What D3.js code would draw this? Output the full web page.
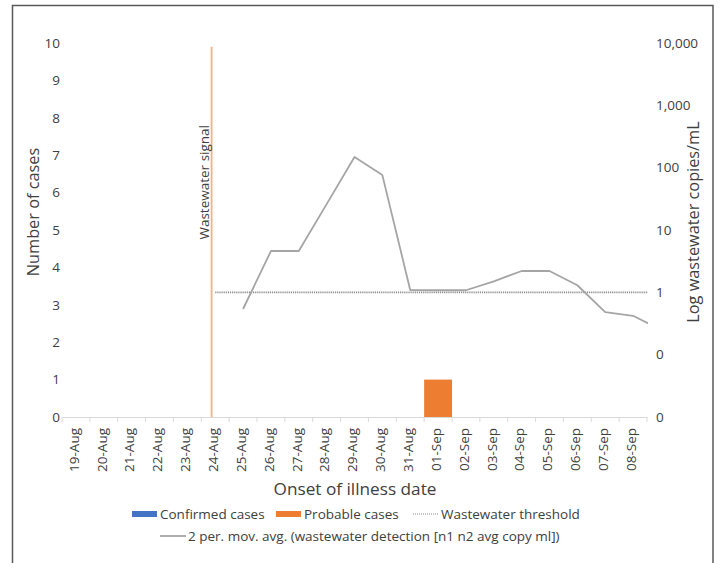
<!DOCTYPE html>
<html>
<head>
<meta charset="utf-8">
<script src="https://cdn.jsdelivr.net/npm/d3@7"></script>
<style>
  html, body { margin: 0; padding: 0; background: #fff; }
  svg { display: block; font-family: "Open Sans", Lato, sans-serif; }
</style>
</head>
<body>
<svg id="chart" width="719" height="563"></svg>
<script>
// Onset-of-illness dates (one category per day)
const dates = ["19-Aug","20-Aug","21-Aug","22-Aug","23-Aug","24-Aug","25-Aug","26-Aug","27-Aug",
  "28-Aug","29-Aug","30-Aug","31-Aug","01-Sep","02-Sep","03-Sep","04-Sep","05-Sep","06-Sep",
  "07-Sep","08-Sep"];
const confirmedCases = [0,0,0,0,0,0,0,0,0,0,0,0,0,0,0,0,0,0,0,0,0];
const probableCases  = [0,0,0,0,0,0,0,0,0,0,0,0,0,1,0,0,0,0,0,0,0];

// Wastewater: 2-period moving average (copies/mL), starting 25-Aug; last value is 09-Sep
const wwStart = "25-Aug";
const wwMovAvg = [0.54, 4.6, 4.6, 26, 148, 76, 1.09, 1.08, 1.08, 1.5, 2.2, 2.2, 1.3, 0.48, 0.42, 0.25];
// Detection threshold, drawn from the signal date onward
const wwThresholdStart = "24-Aug";
const wwThreshold = 1;
const signalDate = "24-Aug";

const leftTicks = [0,1,2,3,4,5,6,7,8,9,10];
const rightTicks = [0.01, 0.1, 1, 10, 100, 1000, 10000];

const FONT = "'Open Sans', Lato, sans-serif";
const TXT = "#404040";
const FS = 13.5;        // tick and legend text
const FS_TITLE = 17.2;  // x axis title
const FS_VTITLE = 16.3; // y axis titles

const svg = d3.select("#chart");
const plot = { left: 62, right: 647, top: 43, bottom: 417 };

const x = d3.scaleBand().domain(dates).range([plot.left, plot.right]).padding(0);
const yCases = d3.scaleLinear().domain([0, 10]).range([plot.bottom, plot.top]);
const yWW = d3.scaleLog().domain([0.01, 10000]).range([plot.bottom, plot.top]);

// position of a day counted from a given start category (may run past the last date)
const dayX = (start, i) => x(start) + x.step() * i + x.bandwidth() / 2;

// outer frame
svg.append("rect").attr("x", 12.5).attr("y", 5.5).attr("width", 700.5).attr("height", 600)
  .attr("fill", "none").attr("stroke", "#595959").attr("stroke-width", 1.5);

svg.append("defs").append("clipPath").attr("id", "plotClip")
  .append("rect").attr("x", plot.left).attr("y", plot.top - 5)
  .attr("width", plot.right - plot.left + 1).attr("height", plot.bottom - plot.top + 5);

// left axis labels
const gL = svg.append("g").attr("transform", `translate(${plot.left - 2},0)`)
  .call(d3.axisLeft(yCases).tickValues(leftTicks).tickSize(0).tickPadding(0));
gL.select(".domain").remove();
gL.selectAll("text").attr("font-size", FS).attr("fill", TXT).style("font-family", FONT);

// right axis labels
const gR = svg.append("g").attr("transform", `translate(${plot.right + 9},0)`)
  .call(d3.axisRight(yWW).tickValues(rightTicks).tickFormat(d3.format(",.0f")).tickSize(0).tickPadding(0));
gR.select(".domain").remove();
gR.selectAll("text").attr("font-size", FS).attr("fill", TXT).style("font-family", FONT);

// bars
const barData = dates.map((d, i) => ({ d, c: confirmedCases[i], p: probableCases[i] }));
svg.append("g").selectAll("rect.conf").data(barData.filter(b => b.c > 0)).join("rect")
  .attr("x", b => x(b.d)).attr("width", x.bandwidth())
  .attr("y", b => yCases(b.c)).attr("height", b => yCases(0) - yCases(b.c)).attr("fill", "#4472c4");
svg.append("g").selectAll("rect.prob").data(barData.filter(b => b.p > 0)).join("rect")
  .attr("x", b => x(b.d)).attr("width", x.bandwidth())
  .attr("y", b => yCases(b.c + b.p)).attr("height", b => yCases(b.c) - yCases(b.c + b.p)).attr("fill", "#ed7d31");

// x axis
const gX = svg.append("g").attr("transform", `translate(0,${plot.bottom})`)
  .call(d3.axisBottom(x).tickSize(0).tickPadding(0));
gX.select(".domain").attr("stroke", "#d9d9d9").attr("stroke-width", 1.2);
gX.selectAll(".tick text")
  .attr("font-size", FS).attr("fill", TXT).style("font-family", FONT)
  .attr("text-anchor", "end").attr("dy", "0.35em")
  .attr("transform", "translate(-2,11) rotate(-90)").attr("x", 0).attr("y", 0);
// boundary tick marks between categories
gX.append("g").selectAll("line").data(d3.range(dates.length + 1)).join("line")
  .attr("x1", i => plot.left + i * x.step()).attr("x2", i => plot.left + i * x.step())
  .attr("y1", 0).attr("y2", 5).attr("stroke", "#d9d9d9").attr("stroke-width", 1);

// wastewater signal marker
const sx = x(signalDate) + x.bandwidth() * 0.37;
svg.append("line").attr("x1", sx).attr("x2", sx).attr("y1", yCases(9.9)).attr("y2", yCases(0))
  .attr("stroke", "#f4b183").attr("stroke-width", 1.8);
svg.append("text").attr("transform", `translate(${sx - 3},${125}) rotate(-90)`)
  .attr("text-anchor", "end").attr("font-size", FS).attr("fill", TXT)
  .text("Wastewater signal");

const clipped = svg.append("g").attr("clip-path", "url(#plotClip)");

// threshold line
const thrStartIdx = dates.indexOf(wwThresholdStart);
const nThr = dates.length - thrStartIdx + 1;
clipped.append("path")
  .datum(d3.range(nThr))
  .attr("d", d3.line().x(i => dayX(wwThresholdStart, i)).y(() => yWW(wwThreshold)))
  .attr("fill", "none").attr("stroke", "#8c8c8c").attr("stroke-width", 1.6).attr("stroke-dasharray", "1.2,0.9");

// moving-average line
clipped.append("path")
  .datum(wwMovAvg)
  .attr("d", d3.line().x((v, i) => dayX(wwStart, i)).y(v => yWW(v)))
  .attr("fill", "none").attr("stroke", "#a5a5a5").attr("stroke-width", 1.8).attr("stroke-linejoin", "round");

// axis titles
svg.append("text").attr("transform", "translate(39,212) rotate(-90)")
  .attr("text-anchor", "middle").attr("font-size", FS_VTITLE).attr("fill", TXT).text("Number of cases");
svg.append("text").attr("transform", "translate(699,222) rotate(-90)")
  .attr("text-anchor", "middle").attr("font-size", FS_VTITLE).attr("fill", TXT).text("Log wastewater copies/mL");
svg.append("text").attr("x", 355).attr("y", 495)
  .attr("text-anchor", "middle").attr("font-size", FS_TITLE).attr("fill", TXT).text("Onset of illness date");

// legend
const legend = svg.append("g").attr("font-size", FS).attr("fill", TXT);
const legendItems = [
  { type: "rect", color: "#4472c4", label: "Confirmed cases", x: 132, y: 514 },
  { type: "rect", color: "#ed7d31", label: "Probable cases", x: 276, y: 514 },
  { type: "dot", color: "#8c8c8c", label: "Wastewater threshold", x: 413, y: 514 },
  { type: "line", color: "#a5a5a5", label: "2 per. mov. avg. (wastewater detection [n1 n2 avg copy ml])", x: 160, y: 536 }
];
legendItems.forEach(it => {
  if (it.type === "rect") {
    legend.append("rect").attr("x", it.x).attr("y", it.y - 3).attr("width", 25).attr("height", 6).attr("fill", it.color);
  } else {
    legend.append("line").attr("x1", it.x).attr("x2", it.x + 26).attr("y1", it.y).attr("y2", it.y)
      .attr("stroke", it.color).attr("stroke-width", it.type === "dot" ? 1 : 1.8)
      .attr("stroke-dasharray", it.type === "dot" ? "1,1" : null);
  }
  legend.append("text").attr("x", it.x + 28).attr("y", it.y).attr("dy", "0.35em").text(it.label);
});
</script>
</body>
</html>
